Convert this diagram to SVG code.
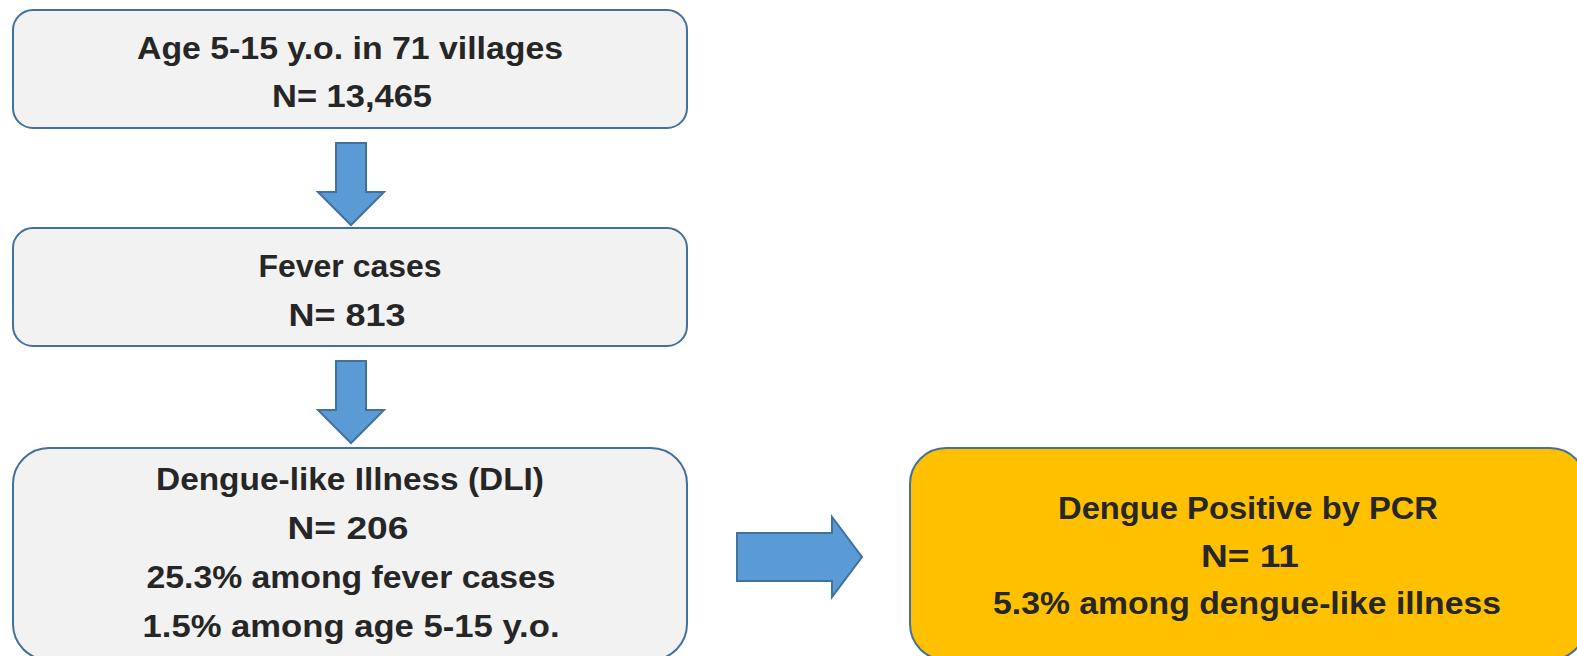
<svg xmlns="http://www.w3.org/2000/svg" width="1577" height="656" viewBox="0 0 1577 656">
<style>
.box{fill:#F2F2F2;stroke:#41719C;stroke-width:2}
.hl{fill:#FFC000;stroke:#41719C;stroke-width:2}
.arr{fill:#5B9BD5;stroke:#41719C;stroke-width:2}
text{font-family:"Liberation Sans",Arial,sans-serif;font-weight:bold;font-size:32px;fill:#262626;text-anchor:middle}
</style>
<rect width="1577" height="656" fill="#FFFFFF"/>
<g id="node-age">
<rect class="box" x="13" y="10" width="674" height="118" rx="20" ry="20"/>
<text x="350" y="59" textLength="426" lengthAdjust="spacingAndGlyphs">Age 5-15 y.o. in 71 villages</text>
<text x="352" y="107" textLength="160" lengthAdjust="spacingAndGlyphs">N= 13,465</text>
</g>
<g id="node-fever">
<rect class="box" x="13" y="228" width="674" height="118" rx="20" ry="20"/>
<text x="350" y="277" textLength="183" lengthAdjust="spacingAndGlyphs">Fever cases</text>
<text x="347" y="326" textLength="117" lengthAdjust="spacingAndGlyphs">N= 813</text>
</g>
<g id="node-dli">
<rect class="box" x="13" y="448" width="674" height="212" rx="36" ry="36"/>
<text x="350" y="490" textLength="388" lengthAdjust="spacingAndGlyphs">Dengue-like Illness (DLI)</text>
<text x="348" y="539" textLength="121" lengthAdjust="spacingAndGlyphs">N= 206</text>
<text x="351" y="588" textLength="409" lengthAdjust="spacingAndGlyphs">25.3% among fever cases</text>
<text x="351" y="637" textLength="417" lengthAdjust="spacingAndGlyphs">1.5% among age 5-15 y.o.</text>
</g>
<g id="node-pcr">
<rect class="hl" x="910" y="448" width="676" height="212" rx="36" ry="36"/>
<text x="1248" y="519" textLength="380" lengthAdjust="spacingAndGlyphs">Dengue Positive by PCR</text>
<text x="1250" y="567" textLength="98" lengthAdjust="spacingAndGlyphs">N= 11</text>
<text x="1247" y="614" textLength="508" lengthAdjust="spacingAndGlyphs">5.3% among dengue-like illness</text>
</g>
<g id="connectors">
<polygon class="arr" points="336,143 366,143 366,192 384,192 351,225 318,192 336,192"/>
<polygon class="arr" points="336,361 366,361 366,410 384,410 351,443 318,410 336,410"/>
<polygon class="arr" points="737,533 832,533 832,517 862,557 832,597 832,581 737,581"/>
</g>
</svg>
